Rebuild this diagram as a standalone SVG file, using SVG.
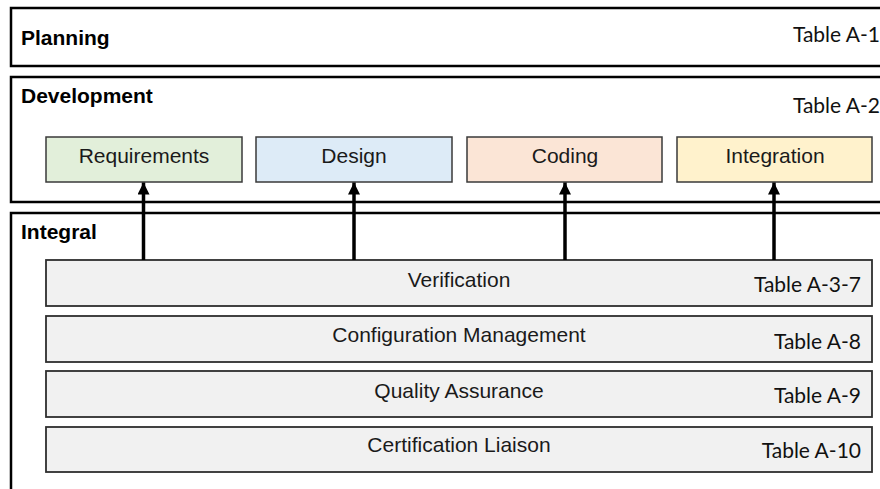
<svg xmlns="http://www.w3.org/2000/svg" width="880" height="489" viewBox="0 0 880 489">
  <defs>
    <style>
      .phase { fill: #ffffff; stroke: #000000; stroke-width: 2.5; }
      .title { font-family: "Liberation Sans", Arial, sans-serif; font-weight: bold; font-size: 21px; fill: #000000; }
      .table { font-family: Lato, "Open Sans", sans-serif; font-size: 21px; fill: #111111; text-anchor: end; }
      .step { stroke: #3a3a3a; stroke-width: 1.5; }
      .label { font-family: "Liberation Sans", Arial, sans-serif; font-size: 21px; fill: #1a1a1a; text-anchor: middle; }
      .process { fill: #f1f1f1; stroke: #2e2e2e; stroke-width: 1.8; }
      .link { stroke: #000000; stroke-width: 3.5; fill: none; marker-end: url(#head); }
    </style>
    <marker id="head" viewBox="0 0 12 12" refX="12" refY="6" markerUnits="userSpaceOnUse" markerWidth="12" markerHeight="12" orient="auto">
      <path d="M0,0 L12,6 L0,12 Z" fill="#000000"/>
    </marker>
  </defs>

  <!-- Planning process -->
  <g id="planning">
    <rect class="phase" x="11" y="8" width="880" height="58"/>
    <text class="title" x="21" y="45">Planning</text>
    <text class="table" x="880" y="42">Table A-1</text>
  </g>

  <!-- Development processes -->
  <g id="development">
    <rect class="phase" x="11" y="77" width="880" height="125"/>
    <text class="title" x="21" y="103">Development</text>
    <text class="table" x="880" y="113">Table A-2</text>
  </g>
  <g id="requirements">
    <rect class="step" x="46" y="137" width="196" height="45" fill="#e2efda"/>
    <text class="label" x="144" y="163">Requirements</text>
  </g>
  <g id="design">
    <rect class="step" x="256" y="137" width="196" height="45" fill="#ddebf7"/>
    <text class="label" x="354" y="163">Design</text>
  </g>
  <g id="coding">
    <rect class="step" x="467" y="137" width="195" height="45" fill="#fbe5d6"/>
    <text class="label" x="565" y="163">Coding</text>
  </g>
  <g id="integration">
    <rect class="step" x="677" y="137" width="195" height="45" fill="#fff2cc"/>
    <text class="label" x="775" y="163">Integration</text>
  </g>

  <!-- Integral processes -->
  <g id="integral">
    <rect class="phase" x="11" y="213" width="880" height="300"/>
    <text class="title" x="21" y="239">Integral</text>
  </g>
  <g id="verification">
    <rect class="process" x="46" y="260" width="826" height="46"/>
    <text class="label" x="459" y="287">Verification</text>
    <text class="table" x="861" y="292">Table A-3-7</text>
  </g>
  <g id="configuration-management">
    <rect class="process" x="46" y="316" width="826" height="46"/>
    <text class="label" x="459" y="342">Configuration Management</text>
    <text class="table" x="861" y="349">Table A-8</text>
  </g>
  <g id="quality-assurance">
    <rect class="process" x="46" y="371" width="826" height="46"/>
    <text class="label" x="459" y="398">Quality Assurance</text>
    <text class="table" x="861" y="403">Table A-9</text>
  </g>
  <g id="certification-liaison">
    <rect class="process" x="46" y="427" width="826" height="45"/>
    <text class="label" x="459" y="452">Certification Liaison</text>
    <text class="table" x="861" y="458">Table A-10</text>
  </g>

  <!-- Verification feeds each development step -->
  <g id="connectors">
    <line class="link" x1="143.5" y1="260" x2="143.5" y2="182.5"/>
    <line class="link" x1="354" y1="260" x2="354" y2="182.5"/>
    <line class="link" x1="565" y1="260" x2="565" y2="182.5"/>
    <line class="link" x1="774" y1="260" x2="774" y2="182.5"/>
  </g>
</svg>
